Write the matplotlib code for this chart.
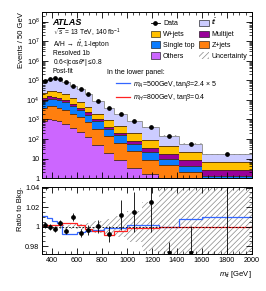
import numpy as np
import matplotlib
matplotlib.use('Agg')
import matplotlib.pyplot as plt
from matplotlib.ticker import MultipleLocator, FixedLocator, FuncFormatter, NullFormatter
from matplotlib.patches import Patch
from matplotlib.lines import Line2D

plt.rcParams['font.family'] = ['Liberation Sans', 'DejaVu Sans']
plt.rcParams['mathtext.fontset'] = 'custom'
plt.rcParams['mathtext.rm'] = 'Liberation Sans'
plt.rcParams['mathtext.it'] = 'Liberation Sans:italic'
plt.rcParams['mathtext.bf'] = 'Liberation Sans:bold'
plt.rcParams['hatch.linewidth'] = 0.5

# Binning m_tt [GeV]
edges = [320, 360, 400, 440, 480, 540, 600, 660, 720, 820, 900, 1000, 1120, 1260, 1420, 1600, 2000]

# Events / 50 GeV
data = [89000, 120000, 126000, 112000, 79000, 52000, 35500, 20000, 8900, 4000, 2000, 850, 400, 141, 54, 17]
others = [794, 1000, 955, 794, 562, 355, 224, 126, 50, 20, 8.9, 3.2, 1.6, 0.3, 0.16, 0.1]
zjets = [3190, 3790, 3720, 3190, 2390, 1640, 1035, 580, 266, 121, 54, 21, 7.3, 4.2, 1.9, 0.7]
singletop = [4930, 6430, 6540, 6020, 4640, 3020, 1900, 1070, 478, 175, 88, 32, 13.5, 5.1, 2.1, 0.47]
multijet = [3110, 3570, 3230, 2590, 1960, 1300, 820, 513, 253, 101, 58, 27, 13.1, 7.4, 3.8, 1.25]
wjets = [10400, 13400, 13700, 12500, 9500, 6280, 3960, 2180, 950, 474, 238, 117, 53.5, 27.7, 13, 4.1]
ttbar = [66400, 91900, 98100, 86500, 60300, 38900, 27800, 15600, 6900, 3140, 1530, 637, 301, 105, 37, 9.6]

# relative errors, uncertainty band, signal ratios (lower panel)
data_relerr = [0.003, 0.003, 0.003, 0.003, 0.003, 0.004, 0.004, 0.005, 0.007, 0.008, 0.015, 0.02, 0.03, 0.045, 0.074, 0.12]
band = [0.0015, 0.0015, 0.0015, 0.002, 0.002, 0.0025, 0.003, 0.004, 0.006, 0.008, 0.011, 0.016, 0.025, 0.045, 0.06, 0.09]
sig_A500 = [1.0106, 1.0085, 1.006, 1.0038, 0.993, 0.993, 0.9945, 0.996, 0.997, 0.9985, 0.9988, 1.002, 1.002, 0.9995, 1.008, 1.010]
sig_H800 = [1.001, 1.0015, 1.0015, 1.002, 1.004, 1.004, 1.0015, 0.998, 0.996, 0.992, 0.996, 0.999, 0.999, 0.9995, 1.0, 1.0]

edges = np.array(edges, dtype=float)
centers = 0.5 * (edges[1:] + edges[:-1])
data = np.array(data, dtype=float)

components = [
    ('Others', others, '#cc66ff'),
    ('Z+jets', zjets, '#ff7f0e'),
    ('Single top', singletop, '#0a7cff'),
    ('Multijet', multijet, '#990099'),
    ('W+jets', wjets, '#ffc000'),
    (r'$t\bar{t}$', ttbar, '#ccccff'),
]

fig = plt.figure(figsize=(2.66, 2.91), dpi=100)
ax = fig.add_axes([0.158, 0.388, 0.789, 0.570])
ax2 = fig.add_axes([0.158, 0.127, 0.789, 0.230])

# stacked histogram
bottom = np.full(len(data), 1e-3)
for name, vals, col in components:
    top = bottom + np.array(vals, dtype=float)
    edgec = '#888888' if name.startswith('$t') else '#4a2a10'
    ax.stairs(top, edges, baseline=bottom, fill=True, color=col, lw=0)
    ax.stairs(top, edges, baseline=None, color=edgec, lw=0.6)
    bottom = top
total = bottom

ax.stairs(total * (1 + np.array(band)), edges, baseline=total * (1 - np.array(band)),
          fill=True, facecolor='none', edgecolor='#888888', hatch='//////', lw=0)
ax.errorbar(centers, data, yerr=data * np.array(data_relerr), fmt='o', ms=2.4,
            color='k', elinewidth=0.6, capsize=0)

ax.set_yscale('log')
ax.set_xlim(320, 2000)
ax.set_ylim(1, 3e8)
ax.set_ylabel('Events / 50 GeV', loc='top', fontsize=5.5, labelpad=1)
ax.yaxis.set_major_locator(FixedLocator([10.0 ** k for k in range(0, 9)]))


def logfmt(v, pos):
    n = int(round(np.log10(v)))
    if n == 0:
        return '1'
    if n == 1:
        return '10'
    return r'$10^{%d}$' % n


ax.yaxis.set_major_formatter(FuncFormatter(logfmt))
ax.xaxis.set_major_locator(MultipleLocator(200))
ax.xaxis.set_minor_locator(MultipleLocator(50))
ax.xaxis.set_major_formatter(NullFormatter())

# labels
ax.text(0.05, 0.936, 'ATLAS', transform=ax.transAxes, fontsize=6.5, fontweight='bold',
        style='italic', va='center')
info = [r'$\sqrt{s}$ = 13 TeV, 140 fb$^{-1}$', r'A/H $\rightarrow$ $t\bar{t}$, 1-lepton',
        'Resolved 1b', r'0.6<|cos$\theta$*|$\leq$0.8', 'Post-fit']
info_y = [0.876, 0.806, 0.752, 0.698, 0.644]
for t, yy in zip(info, info_y):
    ax.text(0.05, yy, t, transform=ax.transAxes, fontsize=4.8, va='center')

# legend
h = {name: Patch(facecolor=col, edgecolor='k', lw=0.4) for name, vals, col in components}
h_data = Line2D([], [], marker='o', ms=2.4, color='k', lw=0.6)
h_unc = Patch(facecolor='none', edgecolor='#888888', hatch='//////', lw=0)
handles = [h_data, h['W+jets'], h['Single top'], h['Others'],
           h[r'$t\bar{t}$'], h['Multijet'], h['Z+jets'], h_unc]
labels = ['Data', 'W+jets', 'Single top', 'Others', r'$t\bar{t}$', 'Multijet', 'Z+jets', 'Uncertainty']
leg = ax.legend(handles, labels, ncol=2, loc='upper right', bbox_to_anchor=(1.0, 1.0),
                fontsize=5, frameon=False, handlelength=1.4, handleheight=1.1,
                handletextpad=0.4, columnspacing=0.6, labelspacing=0.45, borderaxespad=0.3)
ax.add_artist(leg)

ax.text(0.31, 0.639, 'In the lower panel:', transform=ax.transAxes, fontsize=5, va='center')
sig_handles = [Line2D([], [], color='#3366ff', lw=0.9), Line2D([], [], color='#ff2222', lw=0.9)]
sig_labels = [r'$m_A$=500GeV, tan$\beta$=2.4 $\times$ 5', r'$m_H$=800GeV, tan$\beta$=0.4']
ax.legend(sig_handles, sig_labels, loc='upper left', bbox_to_anchor=(0.34, 0.615),
          fontsize=5, frameon=False, handlelength=2.0, handletextpad=0.4,
          labelspacing=0.3, borderaxespad=0)

# ratio panel
ax2.stairs(1 + np.array(band), edges, baseline=1 - np.array(band), fill=True,
           facecolor='none', edgecolor='#888888', hatch='//////', lw=0)
ax2.axhline(1, color='k', ls='--', lw=0.6, dashes=(2, 2))
ax2.stairs(sig_A500, edges, baseline=None, color='#3366ff', lw=0.9)
ax2.stairs(sig_H800, edges, baseline=None, color='#ff2222', lw=0.9)

ylo, yhi = 0.972, 1.0405
ratio = data / total
rerr = ratio * np.array(data_relerr)
inside = ratio > ylo
ax2.errorbar(centers[inside], ratio[inside], yerr=rerr[inside], fmt='o', ms=2.4,
             color='k', elinewidth=0.6, capsize=0)
below = ~inside
ax2.vlines(centers[below], ylo, ratio[below] + rerr[below], color='k', lw=0.6)
ax2.plot(centers[below], np.full(below.sum(), ylo + 0.0012), 'v', color='k', ms=2.4)

ax2.set_xlim(320, 2000)
ax2.set_ylim(ylo, yhi)
ax2.set_ylabel('Ratio to Bkg.', loc='top', fontsize=5.5, labelpad=1)
ax2.set_xlabel(r'$m_{t\bar{t}}$ [GeV]', loc='right', fontsize=5.5, labelpad=4)
ax2.yaxis.set_major_locator(FixedLocator([0.98, 1.0, 1.02, 1.04]))
ax2.yaxis.set_major_formatter(FuncFormatter(lambda v, p: '%g' % v))
ax2.yaxis.set_minor_locator(MultipleLocator(0.005))
ax2.xaxis.set_major_locator(MultipleLocator(200))
ax2.xaxis.set_minor_locator(MultipleLocator(50))

for a in (ax, ax2):
    a.tick_params(which='both', direction='in', top=True, right=True, labelsize=5.2, pad=2)
    a.tick_params(which='major', length=4, width=0.6)
    a.tick_params(which='minor', length=2, width=0.5)
    for s in a.spines.values():
        s.set_linewidth(0.7)

fig.savefig('out.png', dpi=100)
